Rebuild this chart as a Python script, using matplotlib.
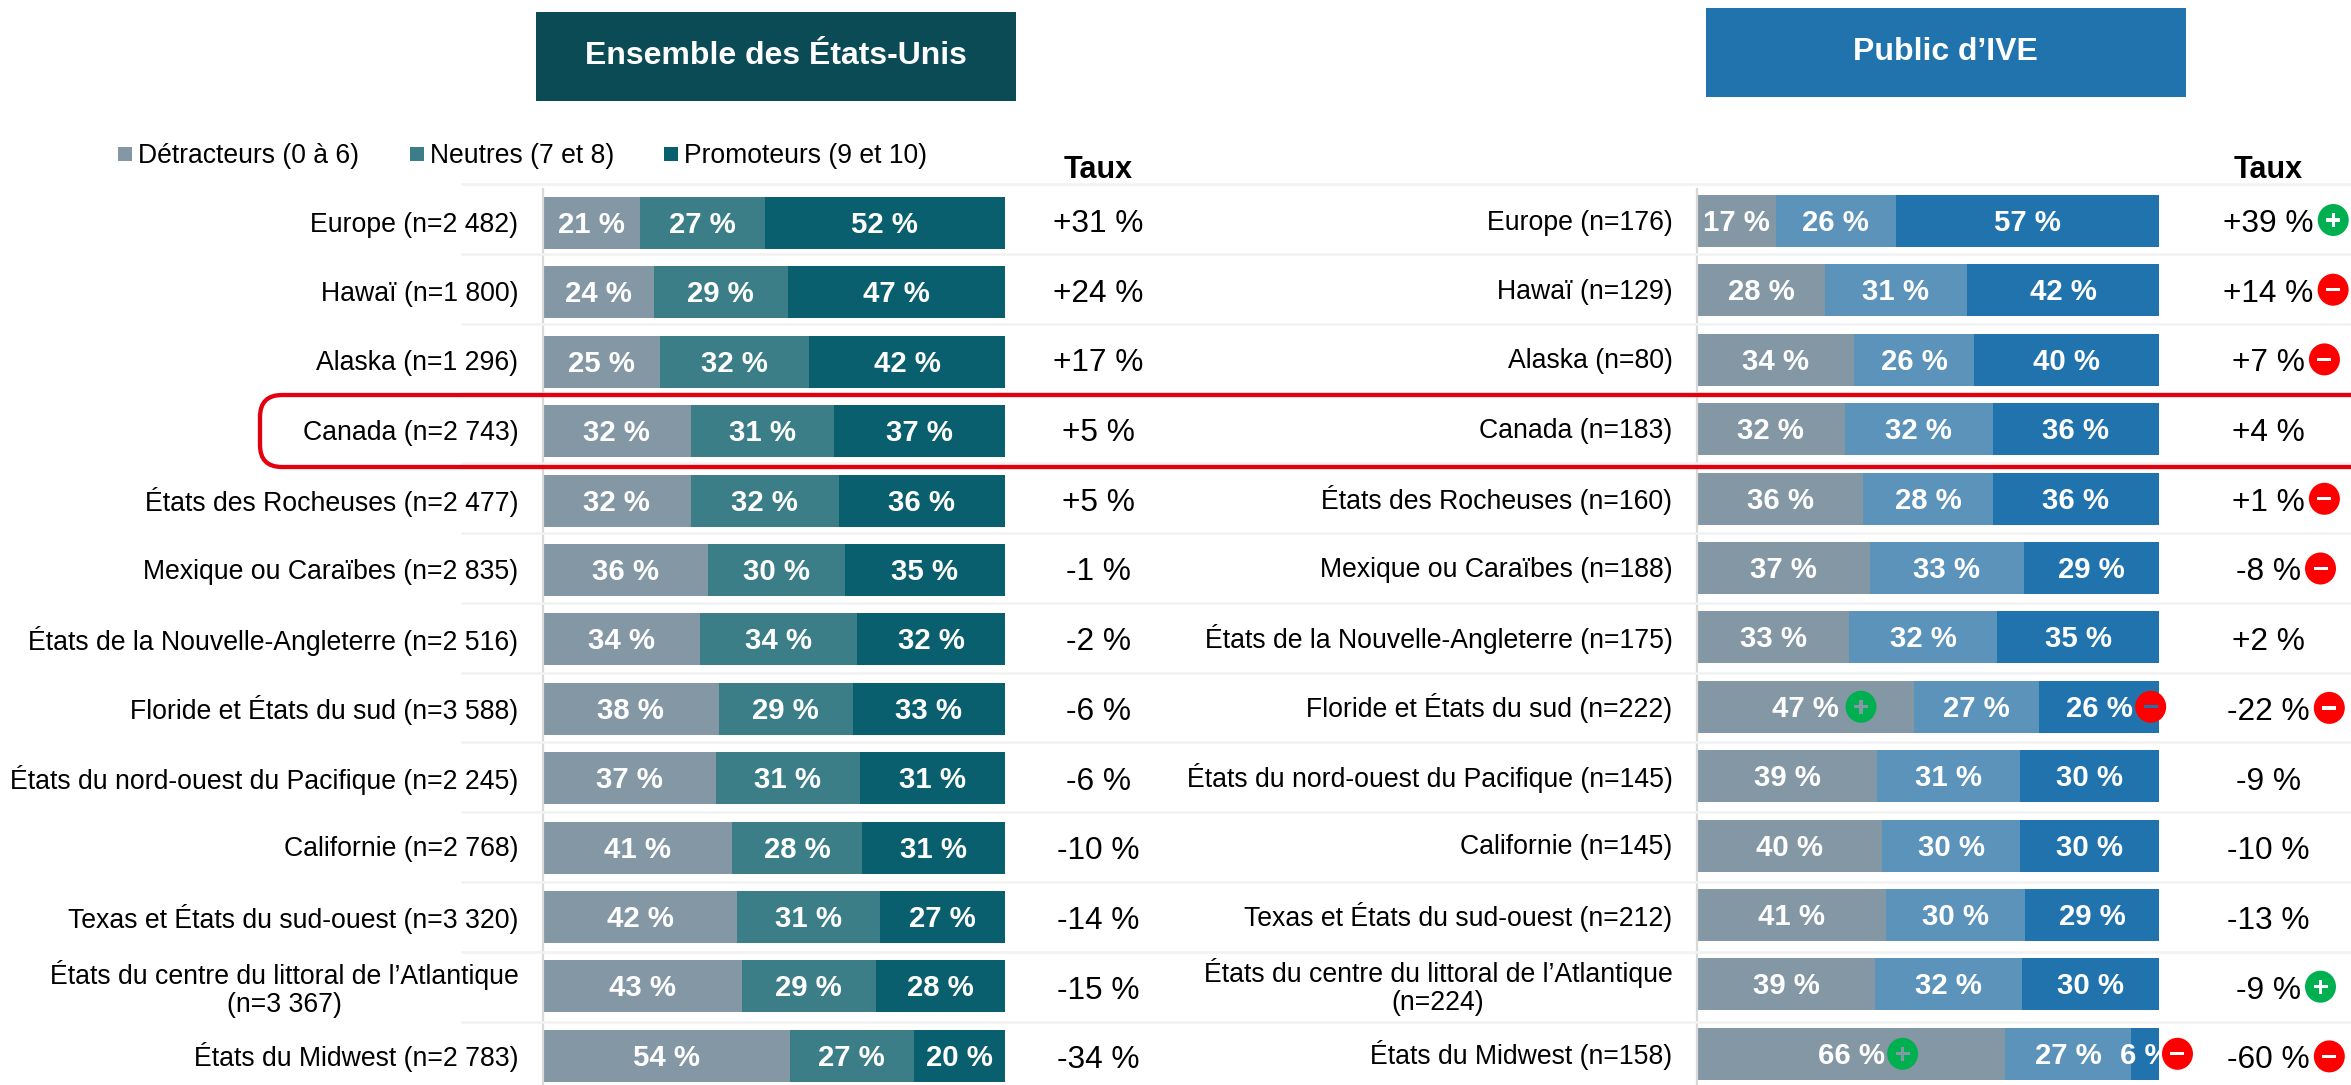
import matplotlib

matplotlib.use("Agg")
import matplotlib.pyplot as plt
import numpy as np
from matplotlib.patches import Ellipse, FancyBboxPatch, Rectangle

plt.rcParams["font.family"] = ["Liberation Sans", "DejaVu Sans"]

W, H = 2351, 1085

regions = [
    "Europe", "Hawaï", "Alaska", "Canada", "États des Rocheuses",
    "Mexique ou Caraïbes", "États de la Nouvelle-Angleterre",
    "Floride et États du sud", "États du nord-ouest du Pacifique",
    "Californie", "Texas et États du sud-ouest",
    "États du centre du littoral de l’Atlantique", "États du Midwest",
]
n_us = ["2 482", "1 800", "1 296", "2 743", "2 477", "2 835", "2 516",
        "3 588", "2 245", "2 768", "3 320", "3 367", "2 783"]
n_ive = ["176", "129", "80", "183", "160", "188", "175",
         "222", "145", "145", "212", "224", "158"]

detr_us = [21, 24, 25, 32, 32, 36, 34, 38, 37, 41, 42, 43, 54]
neut_us = [27, 29, 32, 31, 32, 30, 34, 29, 31, 28, 31, 29, 27]
prom_us = [52, 47, 42, 37, 36, 35, 32, 33, 31, 31, 27, 28, 20]
taux_us = [31, 24, 17, 5, 5, -1, -2, -6, -6, -10, -14, -15, -34]

detr_ive = [17, 28, 34, 32, 36, 37, 33, 47, 39, 40, 41, 39, 66]
neut_ive = [26, 31, 26, 32, 28, 33, 32, 27, 31, 30, 30, 32, 27]
prom_ive = [57, 42, 40, 36, 36, 29, 35, 26, 30, 30, 29, 30, 6]
taux_ive = [39, 14, 7, 4, 1, -8, 2, -22, -9, -10, -13, -9, -60]
# significance flag next to the IVE rate
signif_ive = ["+", "-", "-", "", "-", "-", "", "-", "", "", "", "+", "-"]

legend_labels = ["Détracteurs (0 à 6)", "Neutres (7 et 8)", "Promoteurs (9 et 10)"]
colors_us = ["#8497A5", "#3B7E88", "#0A5F6E"]
colors_ive = ["#8497A5", "#5C93BB", "#2073AD"]

GREEN = "#00B050"
RED = "#FF0000"
PITCH = 69.4


def px_axes(x0, y0, x1, y1, **kw):
    return fig.add_axes([x0 / W, 1 - y1 / H, (x1 - x0) / W, (y1 - y0) / H], **kw)


def draw_bars(ax, series, colors, labels, first_row):
    ax.set_xlim(0, 100)
    ax.set_ylim((H - first_row) / PITCH, (ax_top - first_row) / PITCH)
    rows = np.arange(len(labels))
    data = np.array(series, dtype=float)
    shares = data / data.sum(axis=0) * 100
    left = np.zeros(len(labels))
    for vals, shown, c in zip(shares, data, colors):
        ax.barh(rows, vals, left=left, height=52 / PITCH, color=c, linewidth=0)
        for r, v, l, s in zip(rows, vals, left, shown):
            ax.text(l + v / 2, r + 0.03, f"{int(s)} %", ha="center", va="center",
                    color="white", fontsize=21.2, fontweight="bold", clip_on=False)
        left += vals
    ax.set_yticks(rows - 0.02)
    ax.set_yticklabels(labels, fontsize=19.15, color="black", multialignment="center", linespacing=1.08)
    ax.tick_params(axis="y", length=0, pad=17.7)
    ax.set_xticks([])
    for s in ["top", "right", "bottom"]:
        ax.spines[s].set_visible(False)
    ax.spines["left"].set_color("#D9D9D9")
    ax.spines["left"].set_linewidth(1.6)
    ax.patch.set_visible(False)


def row_labels(ns):
    out = []
    for name, n in zip(regions, ns):
        sep = "\n" if len(name) > 40 else " "
        out.append(f"{name}{sep}(n={n})")
    return out


def icon(x, y, sign, hole="white"):
    page.add_patch(Ellipse((x, y), 31, 32, color=GREEN if sign == "+" else RED, lw=0, zorder=8))
    page.add_patch(Rectangle((x - 7, y - 1.6), 14, 3.2, color=hole, lw=0, zorder=9))
    if sign == "+":
        page.add_patch(Rectangle((x - 1.6, y - 7), 3.2, 14, color=hole, lw=0, zorder=9))


fig = plt.figure(figsize=(W / 100, H / 100), dpi=100, facecolor="white")
ax_top = 189

ax_us = px_axes(543, ax_top, 1005, H, zorder=2)
draw_bars(ax_us, [detr_us, neut_us, prom_us], colors_us, row_labels(n_us), 223)
ax_ive = px_axes(1697, ax_top, 2159, H, zorder=2)
draw_bars(ax_ive, [detr_ive, neut_ive, prom_ive], colors_ive, row_labels(n_ive), 221)

# overlay in pixel units for everything around the bars
page = fig.add_axes([0, 0, 1, 1], zorder=5)
page.set_xlim(0, W)
page.set_ylim(H, 0)
page.axis("off")

for k in range(13):
    y = 184 + 69.8 * k
    page.plot([461, W], [y, y], color="#F2F2F2", lw=1.9, zorder=1, solid_capstyle="butt")

box = FancyBboxPatch((270, 405), 2300, 52, boxstyle="round,pad=10,rounding_size=22",
                     fc="none", ec="#E3000F", lw=3.1, zorder=3)
page.add_patch(box)

page.add_patch(Rectangle((536, 12), 480, 89, color="#0A4B55", lw=0))
page.text(776, 56, "Ensemble des États-Unis", color="white", fontsize=23,
          fontweight="bold", ha="center", va="center")
page.add_patch(Rectangle((1706, 8), 480, 89, color="#2073AD", lw=0))
page.text(1945, 52, "Public d’IVE", color="white", fontsize=23,
          fontweight="bold", ha="center", va="center")

for x, lab, c in zip([118, 410, 664], legend_labels, colors_us):
    page.add_patch(Rectangle((x, 147), 14, 14, color=c, lw=0))
    page.text(x + 20, 156, lab, fontsize=19.1, ha="left", va="center")

page.text(1098, 170, "Taux", fontsize=22, fontweight="bold", ha="center", va="center")
page.text(2268, 170, "Taux", fontsize=22, fontweight="bold", ha="center", va="center")

renderer = fig.canvas.get_renderer()
inv = page.transData.inverted()

for k, (a, b, s) in enumerate(zip(taux_us, taux_ive, signif_ive)):
    y = 221 + 69.7 * k
    page.text(1098, y + 3, f"{a:+d} %", fontsize=22.8, ha="center", va="center")
    t = page.text(2268, y + 3, f"{b:+d} %", fontsize=22.8, ha="center", va="center")
    if s:
        right = inv.transform(t.get_window_extent(renderer))[1, 0]
        icon(right + 20, y - 1, s)

# flags sitting on the IVE bars: (row, sign, hole colour, centre as share of bar)
bar_flags = [
    (7, "+", colors_ive[0], 35.5),
    (7, "-", colors_ive[2], 98.2),
    (12, "+", colors_ive[0], 44.5),
    (12, "-", "white", 104.0),
]
for row, sign, hole, share in bar_flags:
    x, y = inv.transform(ax_ive.transData.transform((share, row)))
    icon(x, y, sign, hole)

fig.savefig("out.png", dpi=100, facecolor="white")
